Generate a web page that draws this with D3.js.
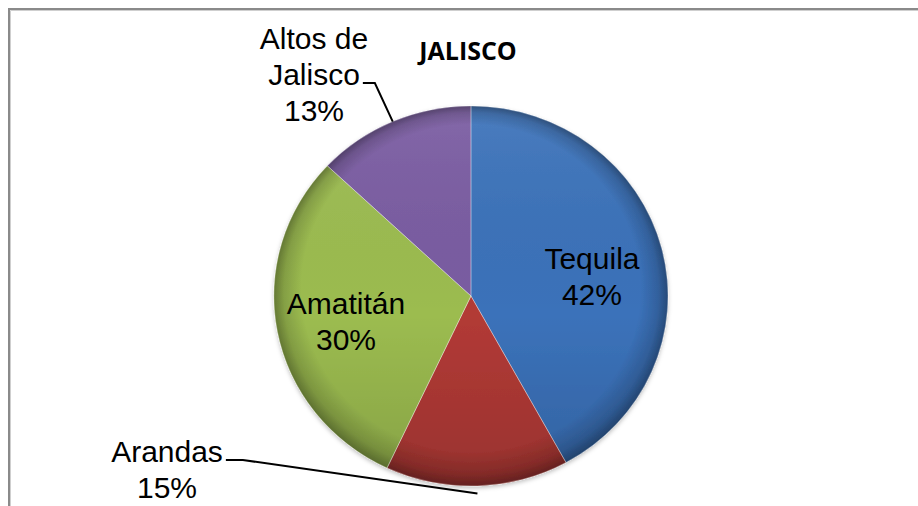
<!DOCTYPE html>
<html>
<head>
<meta charset="utf-8">
<script src="https://cdn.jsdelivr.net/npm/d3@7"></script>
<style>
  html, body { margin: 0; padding: 0; background: #fff; }
  svg { display: block; }
</style>
</head>
<body>
<svg id="chart" width="918" height="506"></svg>
<script>
// ---- data ----
const title = "JALISCO";
const categories = ["Tequila", "Arandas", "Amatitán", "Altos de Jalisco"];
const values = [42, 15, 30, 13];
const percentLabels = ["42%", "15%", "30%", "13%"];
const labelLines = [["Tequila"], ["Arandas"], ["Amatitán"], ["Altos de", "Jalisco"]];

// ---- layout / style ----
const W = 918, H = 506;
const cx = 471, cy = 296, rx = 197, ry = 190;
const colors = ["#3b72ba", "#b23a36", "#9cbc50", "#7a5ca2"];
const fontSize = 30, lineH = 36;
// label placement: inside labels at a fraction of the radius, outside labels at fixed anchors
const labelLayout = [
  { inside: true, r: 0.634, dy: 10 },
  { inside: false, x: 167, m: 469.5, leaderEnd: 1.04, seg: 17 },
  { inside: true, r: 0.646, dy: 3 },
  { inside: false, x: 314, m: 74.5, leaderEnd: 1.0, seg: 12 }
];

const svg = d3.select("#chart");
svg.append("rect").attr("width", W).attr("height", H).attr("fill", "#fff");

// chart-area border (top and left visible)
svg.append("path").attr("d", `M9,${H} L9,9 L${W},9`)
  .attr("fill", "none").attr("stroke", "#8a8a8a").attr("stroke-width", 2);
svg.append("path").attr("d", `M10.5,${H} L10.5,10.5 L${W},10.5`)
  .attr("fill", "none").attr("stroke", "#cfcfcf").attr("stroke-width", 1);

const defs = svg.append("defs");
const shadow = defs.append("filter").attr("id", "shadow")
  .attr("x", "-10%").attr("y", "-10%").attr("width", "120%").attr("height", "125%");
shadow.append("feDropShadow").attr("dx", 0).attr("dy", 2).attr("stdDeviation", 2)
  .attr("flood-color", "#000").attr("flood-opacity", 0.25);

const light = defs.append("linearGradient").attr("id", "light")
  .attr("x1", 0).attr("y1", 0).attr("x2", 0).attr("y2", 1);
light.append("stop").attr("offset", "0%").attr("stop-color", "#fff").attr("stop-opacity", 0.08);
light.append("stop").attr("offset", "55%").attr("stop-color", "#000").attr("stop-opacity", 0.0);
light.append("stop").attr("offset", "100%").attr("stop-color", "#000").attr("stop-opacity", 0.14);

const bevel = defs.append("radialGradient").attr("id", "bevel")
  .attr("cx", 0.5).attr("cy", 0.5).attr("r", 0.5).attr("fx", 0.5).attr("fy", 0.35);
bevel.append("stop").attr("offset", "0%").attr("stop-color", "#000").attr("stop-opacity", 0);
bevel.append("stop").attr("offset", "86%").attr("stop-color", "#000").attr("stop-opacity", 0);
bevel.append("stop").attr("offset", "95%").attr("stop-color", "#000").attr("stop-opacity", 0.15);
bevel.append("stop").attr("offset", "100%").attr("stop-color", "#000").attr("stop-opacity", 0.35);

const pie = d3.pie().sort(null).value(d => d)(values);
const arc = d3.arc().innerRadius(0).outerRadius(1);

const pieG = svg.append("g").attr("transform", `translate(${cx},${cy})`).attr("filter", "url(#shadow)");
const unitG = pieG.append("g").attr("transform", `scale(${rx},${ry})`);

unitG.selectAll("path.slice").data(pie).join("path")
  .attr("class", "slice")
  .attr("d", arc)
  .attr("fill", (d, i) => colors[i]);

const full = d3.arc().innerRadius(0).outerRadius(1).startAngle(0).endAngle(2 * Math.PI)();
unitG.append("path").attr("d", full).attr("fill", "url(#light)");
unitG.append("path").attr("d", full).attr("fill", "url(#bevel)");

unitG.selectAll("path.sep").data(pie).join("path")
  .attr("class", "sep")
  .attr("d", arc)
  .attr("fill", "none")
  .attr("stroke", "#fff").attr("stroke-opacity", 0.35)
  .attr("stroke-width", 0.8).attr("vector-effect", "non-scaling-stroke");

// point on the ellipse for a given angle (d3 convention: 0 = top, clockwise)
function pt(a, k) {
  return [cx + Math.sin(a) * rx * k, cy - Math.cos(a) * ry * k];
}

const labelsG = svg.append("g")
  .attr("font-family", "'Liberation Sans', Arial, sans-serif")
  .attr("font-size", fontSize).attr("fill", "#000").attr("text-anchor", "middle");

pie.forEach((d, i) => {
  const L = labelLayout[i];
  const lines = labelLines[i].concat([percentLabels[i]]);
  const mid = (d.startAngle + d.endAngle) / 2;
  let x, m;
  if (L.inside) {
    const p = pt(mid, L.r);
    x = p[0]; m = p[1] + L.dy;
  } else {
    x = L.x; m = L.m;
  }
  const n = lines.length;
  const t = labelsG.append("text");
  lines.forEach((s, j) => {
    t.append("tspan").attr("x", x)
      .attr("y", m + (j - (n - 1) / 2) * lineH + 0.35 * fontSize)
      .text(s);
  });
  if (!L.inside) {
    // leader line from end of the last category line to the slice edge
    const lastIdx = labelLines[i].length - 1;
    const tsp = t.selectAll("tspan").nodes()[lastIdx];
    const w = tsp.getComputedTextLength();
    const y0 = m + (lastIdx - (n - 1) / 2) * lineH + 0.35 * fontSize - 2;
    const x0 = x + w / 2 + 3;
    const e = pt(mid, L.leaderEnd);
    svg.append("path")
      .attr("d", d3.line()([[x0, y0], [x0 + L.seg, y0], e]))
      .attr("fill", "none").attr("stroke", "#000").attr("stroke-width", 2);
  }
});

svg.append("text").attr("x", 468).attr("y", 60)
  .attr("text-anchor", "middle")
  .attr("font-family", "'Open Sans', sans-serif").attr("font-weight", 700)
  .attr("font-size", 25).attr("fill", "#000")
  .text(title);
</script>
</body>
</html>
